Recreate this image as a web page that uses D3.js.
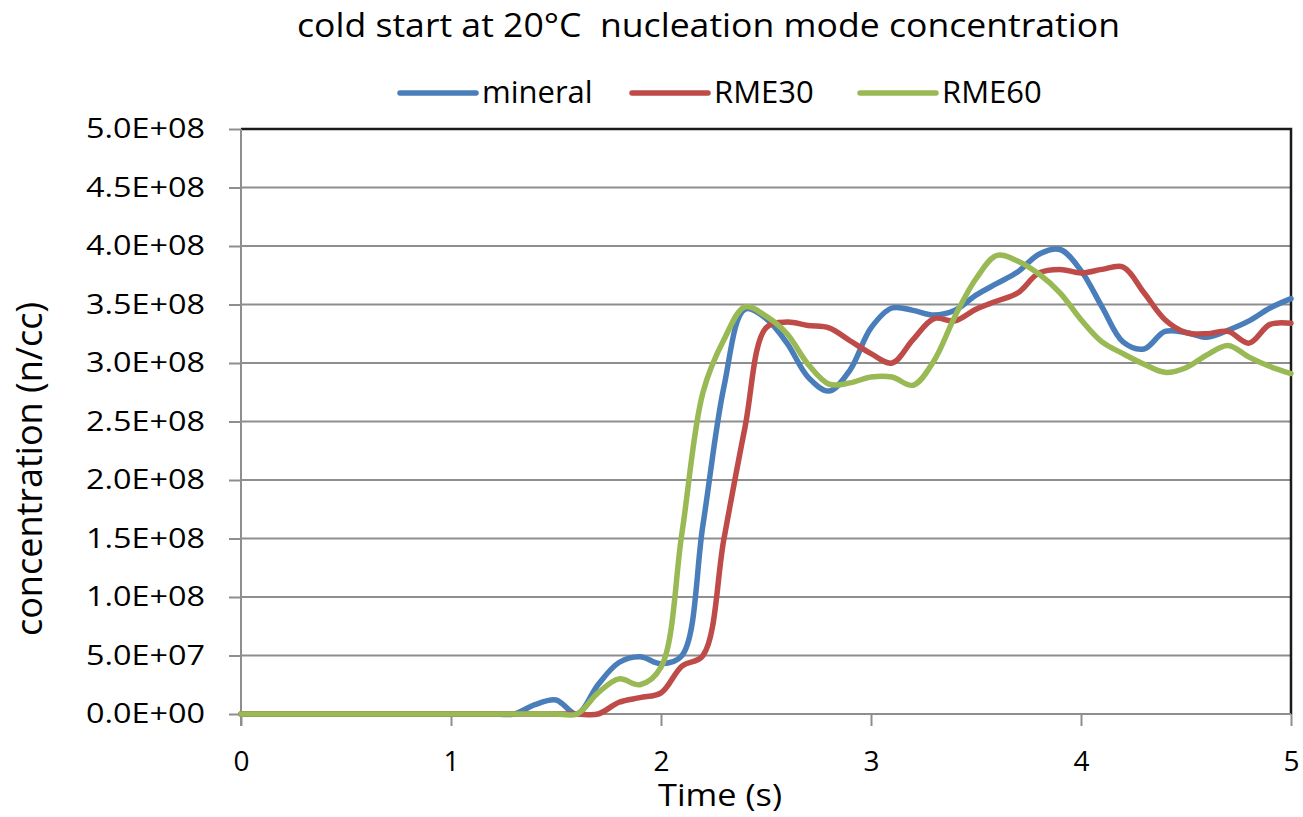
<!DOCTYPE html>
<html>
<head>
<meta charset="utf-8">
<script src="https://cdn.jsdelivr.net/npm/d3@7"></script>
<style>
  html, body { margin: 0; padding: 0; background: #fff; }
  svg { display: block; }
  text { font-family: "Open Sans", "DejaVu Sans", sans-serif; fill: #000; }
</style>
</head>
<body>
<svg id="chart" width="1303" height="817"></svg>
<script>
// ---- data (concentration in units of 1e8 n/cc) ----
const UNIT = 1e8;
const time = d3.range(0, 51).map(i => +(i / 10).toFixed(1));
const mineral = [
  0,0,0,0,0,0,0,0,0,0,          // 0.0 - 0.9
  0,0,0,0,0.08,0.12,0,0.25,0.44,0.49, // 1.0 - 1.9
  0.43,0.50,1.62,2.80,3.46,3.38,3.17,2.88,2.76,2.94, // 2.0 - 2.9
  3.30,3.47,3.45,3.41,3.45,3.58,3.68,3.78,3.93,3.97, // 3.0 - 3.9
  3.79,3.48,3.18,3.12,3.27,3.26,3.22,3.28,3.36,3.47, // 4.0 - 4.9
  3.55                                               // 5.0
];
const rme30 = [
  0,0,0,0,0,0,0,0,0,0,
  0,0,0,0,0,0,0,0,0.10,0.14,
  0.18,0.41,0.50,1.50,2.45,3.30,3.35,3.32,3.30,3.19,
  3.08,3.00,3.20,3.38,3.36,3.46,3.53,3.60,3.77,3.80,
  3.77,3.80,3.82,3.60,3.37,3.26,3.25,3.27,3.17,3.33,
  3.34
];
const rme60 = [
  0,0,0,0,0,0,0,0,0,0,
  0,0,0,0,0,0,0,0.18,0.30,0.25,
  0.40,1.55,2.75,3.20,3.48,3.40,3.25,2.99,2.82,2.83,
  2.88,2.88,2.81,3.02,3.40,3.72,3.92,3.87,3.76,3.60,
  3.37,3.18,3.08,2.99,2.92,2.96,3.07,3.15,3.05,2.97,
  2.91
];
const seriesNames = ["mineral", "RME30", "RME60"];
const seriesColors = ["#4a7ebb", "#be4b48", "#98b954"];
const xTicks = [0, 1, 2, 3, 4, 5];
const yTicks = [0, 0.5e8, 1e8, 1.5e8, 2e8, 2.5e8, 3e8, 3.5e8, 4e8, 4.5e8, 5e8];
const yTickLabels = ["0.0E+00","5.0E+07","1.0E+08","1.5E+08","2.0E+08","2.5E+08","3.0E+08","3.5E+08","4.0E+08","4.5E+08","5.0E+08"];
const titleText = "cold start at 20°C  nucleation mode concentration";
const xTitle = "Time (s)";
const yTitle = "concentration (n/cc)";

// ---- layout ----
const svg = d3.select("#chart");
const pLeft = 241, pRight = 1291, pTop = 129, pBottom = 714;
const x = d3.scaleLinear().domain([0, 5]).range([pLeft, pRight]);
const y = d3.scaleLinear().domain([0, 5e8]).range([pBottom, pTop]);

// gridlines
svg.append("g").selectAll("line").data(yTicks.slice(1, -1)).join("line")
  .attr("x1", pLeft).attr("x2", pRight)
  .attr("y1", d => y(d)).attr("y2", d => y(d))
  .attr("stroke", "#8e8e8e").attr("stroke-width", 2);

// plot frame (top & right dark)
svg.append("path")
  .attr("d", `M${pLeft},${pTop}H${pRight}V${pBottom}`)
  .attr("fill", "none").attr("stroke", "#1a1a1a").attr("stroke-width", 2.5);

// y axis
const yAxis = d3.axisLeft(y).tickValues(yTicks)
  .tickFormat((d, i) => yTickLabels[i]).tickSize(12).tickPadding(24);
const gy = svg.append("g").attr("transform", `translate(${pLeft},0)`).call(yAxis);
gy.select(".domain").attr("stroke", "#8e8e8e").attr("stroke-width", 2)
  .attr("d", `M0,${pTop}V${pBottom + 12}`);
gy.selectAll(".tick line").attr("stroke", "#8e8e8e").attr("stroke-width", 2);
gy.selectAll(".tick text").style("font-size", "28px").style("font-family", '"Open Sans", sans-serif')
  .attr("fill", "#000").attr("textLength", 119).attr("lengthAdjust", "spacingAndGlyphs");

// x axis
const xAxis = d3.axisBottom(x).tickValues(xTicks).tickFormat(d3.format("d"))
  .tickSize(12).tickPadding(25);
const gx = svg.append("g").attr("transform", `translate(0,${pBottom})`).call(xAxis);
gx.select(".domain").attr("stroke", "#8e8e8e").attr("stroke-width", 2)
  .attr("d", `M${pLeft},0H${pRight}`);
gx.selectAll(".tick line").attr("stroke", "#8e8e8e").attr("stroke-width", 2);
gx.selectAll(".tick text").style("font-size", "28px").style("font-family", '"Open Sans", sans-serif').attr("fill", "#000");

// series lines
const series = [mineral, rme30, rme60];
const line = d3.line()
  .x((d, i) => x(time[i]))
  .y(d => y(d * UNIT))
  .curve(d3.curveCatmullRom.alpha(0.5));
svg.append("g").selectAll("path").data(series).join("path")
  .attr("d", d => line(d))
  .attr("fill", "none")
  .attr("stroke", (d, i) => seriesColors[i])
  .attr("stroke-width", 5.5)
  .attr("stroke-linejoin", "round")
  .attr("stroke-linecap", "round");

// title
svg.append("text").attr("x", 708.5).attr("y", 37)
  .attr("text-anchor", "middle")
  .attr("textLength", 823).attr("lengthAdjust", "spacingAndGlyphs")
  .style("font-size", "32px").style("white-space", "pre")
  .text(titleText);

// legend
const legendX = [400, 632, 860];
const lg = svg.append("g").selectAll("g").data(seriesNames).join("g")
  .attr("transform", (d, i) => `translate(${legendX[i]},93)`);
lg.append("line").attr("x1", 0).attr("x2", 76).attr("y1", 0).attr("y2", 0)
  .attr("stroke", (d, i) => seriesColors[i]).attr("stroke-width", 5.5).attr("stroke-linecap", "round");
lg.append("text").attr("x", 82).attr("y", 10).style("font-size", "31px").text(d => d);

// axis titles
svg.append("text").attr("x", 720).attr("y", 806)
  .attr("text-anchor", "middle")
  .attr("textLength", 124).attr("lengthAdjust", "spacingAndGlyphs")
  .style("font-size", "31px").text(xTitle);
svg.append("text")
  .attr("transform", "translate(42,469) rotate(-90)")
  .attr("text-anchor", "middle").style("font-size", "36px").text(yTitle);
</script>
</body>
</html>
